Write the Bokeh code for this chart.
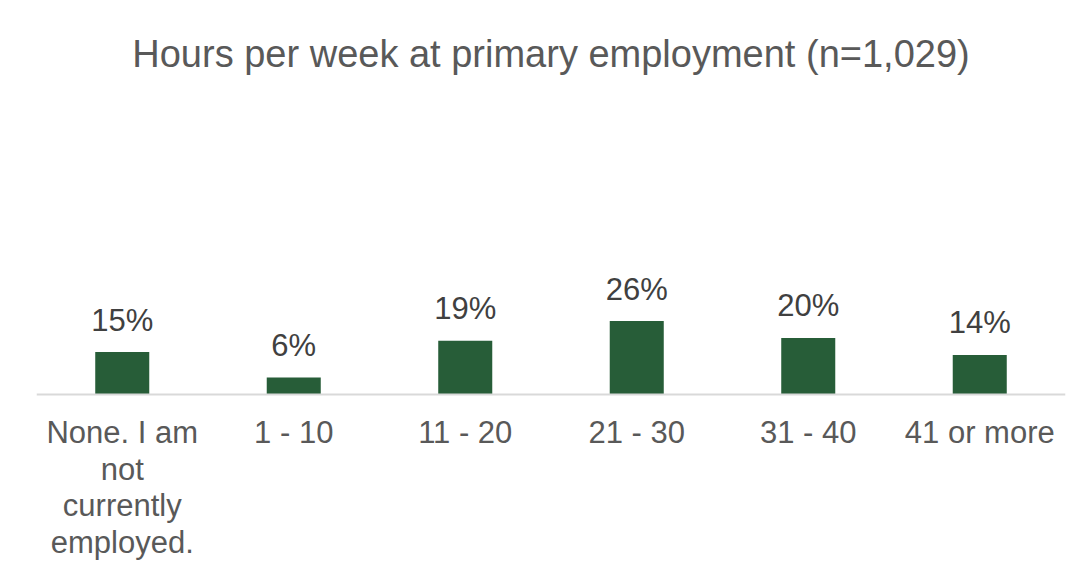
from bokeh.plotting import figure
from bokeh.models import ColumnDataSource, Range1d, Span
from bokeh.core.properties import value
from bokeh.embed import file_html
from bokeh.resources import INLINE

categories = ["None. I am not currently employed.", "1 - 10", "11 - 20", "21 - 30", "31 - 40", "41 or more"]
category_labels = ["None. I am\nnot\ncurrently\nemployed.", "1 - 10", "11 - 20", "21 - 30", "31 - 40", "41 or more"]
percent = [15, 6, 19, 26, 20, 14]
percent_labels = ["15%", "6%", "19%", "26%", "20%", "14%"]

TITLE = "Hours per week at primary employment (n=1,029)"
FONT = "Liberation Sans"

src = ColumnDataSource(dict(cat=categories, pct=percent, lab=percent_labels,
                            catlab=category_labels, zero=[0] * len(categories)))

# pixel layout: 2.85 px per percentage point
PX = 2.85
p = figure(x_range=categories, y_range=Range1d(-176 / PX, 293 / PX), width=1072, height=568,
           output_backend="svg", toolbar_location=None, title=TITLE,
           min_border_left=36, min_border_right=7, min_border_top=99, min_border_bottom=0)

p.vbar(x="cat", top="pct", width=0.315, source=src, fill_color="#275D38", line_color=None)
p.text(x="cat", y="pct", text="lab", source=src, y_offset=-32,
       text_align="center", text_baseline="alphabetic",
       text_font=value(FONT), text_font_size="31px", text_color="#404040")
p.text(x="cat", y="zero", text="catlab", source=src, y_offset=21,
       text_align="center", text_baseline="top", text_line_height=1.04,
       text_font=value(FONT), text_font_size="31px", text_color="#595959")

p.add_layout(Span(location=0, dimension="width", line_color="#D9D9D9", line_width=2))

p.title.align = "center"
p.title.text_font = FONT
p.title.text_font_size = "38px"
p.title.text_font_style = "normal"
p.title.text_color = "#595959"
p.title.standoff = 60

p.axis.visible = False
p.grid.visible = False
p.outline_line_color = None

open("out.html", "w").write(file_html(p, INLINE))
